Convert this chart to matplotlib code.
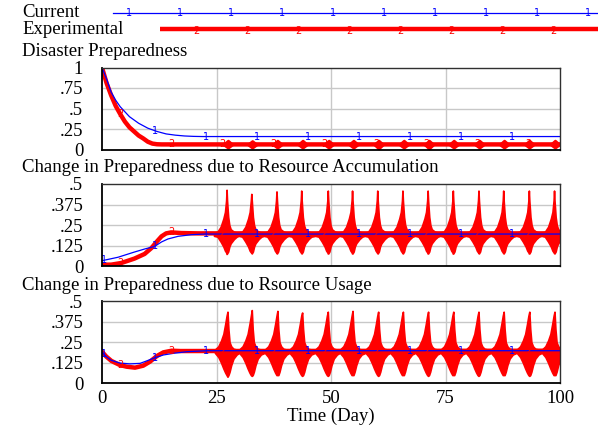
import numpy as np
import matplotlib
matplotlib.use('Agg')
import matplotlib.pyplot as plt

# ── values ───────────────────────────────────────────────────────────────────

MARK_1_T = [0.4, 11.55, 22.7, 33.85, 45.0, 56.15, 67.3, 78.45, 89.6]
MARK_2_T = [4.0, 15.2, 26.3, 37.5, 48.6, 59.8, 70.9, 82.0, 93.2]

# Disaster Preparedness
DP_CUR_T = [0, 1, 2, 3, 4, 5, 6, 7, 8, 9, 10, 12, 14, 16, 18, 20, 22, 100]
DP_CUR_V = [1.0, 0.86, 0.70, 0.60, 0.52, 0.46, 0.40, 0.36, 0.32, 0.29, 0.26,
            0.22, 0.19, 0.175, 0.165, 0.16, 0.158, 0.158]
DP_EXP_T = [0, 1, 2, 3, 4, 5, 6, 7, 8, 9, 10, 11, 12, 13, 100]
DP_EXP_V = [1.0, 0.81, 0.66, 0.53, 0.43, 0.34, 0.27, 0.22, 0.17, 0.135, 0.095,
            0.072, 0.064, 0.062, 0.062]
DP_BLOB_T = [27.5, 32.8, 38.3, 43.8, 49.5, 54.9, 60.4, 65.9, 71.4, 76.8,
             82.4, 87.8, 93.3, 98.9]
DP_BLOB_HI = [0.11, 0.105, 0.11, 0.11, 0.11, 0.11, 0.11, 0.11, 0.11, 0.11,
              0.11, 0.11, 0.11, 0.11]
DP_BLOB_LO = [0.02, 0.02, 0.02, 0.02, 0.02, 0.02, 0.01, 0.02, 0.01, 0.02,
              0.02, 0.02, 0.02, 0.02]

# Change in Preparedness due to Resource Accumulation
ACC_CUR_T = [0, 3.5, 7, 9.3, 11.5, 13, 14.4, 16.6, 19.5, 22.4, 100]
ACC_CUR_V = [0.034, 0.055, 0.086, 0.105, 0.121, 0.148, 0.166, 0.182, 0.192,
             0.196, 0.196]
ACC_EXP_T = [0, 2, 4.2, 7.1, 9.3, 10.8, 11.9, 13, 14, 15.1, 17.3, 21, 100]
ACC_EXP_V = [0.01, 0.01, 0.02, 0.047, 0.075, 0.111, 0.148, 0.182, 0.2, 0.206,
             0.202, 0.2, 0.2]
ACC_PEAK_T = [27.2, 32.6, 38.1, 43.5, 49.3, 54.6, 60.1, 65.6, 71.1, 76.6,
              82.2, 87.6, 93.2, 98.7]
ACC_PEAK_HI = [0.465, 0.44, 0.455, 0.46, 0.46, 0.46, 0.46, 0.46, 0.46, 0.46,
               0.46, 0.46, 0.46, 0.46]
ACC_PEAK_LO = [0.075, 0.085, 0.08, 0.08, 0.078, 0.078, 0.08, 0.08, 0.078,
               0.077, 0.08, 0.08, 0.078, 0.08]
# one burst, measured around its spike (days from spike, envelope values)
ACC_SHAPE_DT = [-2.75, -2.0, -1.3, -0.7, -0.35, -0.1,
                0.1, 0.35, 0.6, 0.9, 1.6, 2.2]
ACC_SHAPE_HI = [0.205, 0.21, 0.24, 0.29, 0.33, 0.40,
                0.40, 0.30, 0.25, 0.225, 0.21, 0.205]
ACC_SHAPE_LO = [0.185, 0.18, 0.15, 0.12, 0.095, 0.085,
                0.078, 0.09, 0.12, 0.14, 0.165, 0.18]

# Change in Preparedness due to Rsource Usage
USE_CUR_T = [0, 1, 2, 3.9, 6.1, 8.3, 9.75, 11.6, 13.4, 15.6, 18.5, 22.9, 100]
USE_CUR_V = [0.19, 0.16, 0.14, 0.123, 0.118, 0.121, 0.136, 0.156, 0.172,
             0.182, 0.192, 0.198, 0.198]
USE_EXP_T = [0, 0.95, 2.05, 3.9, 5.35, 7.2, 9, 10.5, 12, 13.4, 15.2, 17.1, 100]
USE_EXP_V = [0.192, 0.162, 0.136, 0.111, 0.101, 0.095, 0.107, 0.132, 0.166,
             0.188, 0.198, 0.196, 0.198]
USE_PEAK_T = [27.4, 32.7, 38.3, 43.7, 49.3, 54.7, 60.3, 65.7, 71.2, 76.7,
              82.2, 87.7, 93.3, 98.8]
USE_PEAK_HI = [0.435, 0.445, 0.44, 0.43, 0.435, 0.44, 0.435, 0.435, 0.435,
               0.435, 0.435, 0.435, 0.435, 0.435]
USE_PEAK_LO = [0.04, 0.045, 0.05, 0.045, 0.045, 0.05, 0.045, 0.05, 0.045,
               0.05, 0.045, 0.05, 0.045, 0.05]
USE_SHAPE_DT = [-2.75, -2.0, -1.4, -0.9, -0.5, -0.2,
                0.2, 0.45, 0.8, 1.3, 2.0]
USE_SHAPE_HI = [0.205, 0.225, 0.26, 0.30, 0.36, 0.41,
                0.33, 0.25, 0.225, 0.21, 0.205]
USE_SHAPE_LO = [0.185, 0.16, 0.125, 0.09, 0.065, 0.05,
                0.05, 0.07, 0.11, 0.15, 0.175]

BLUE = '#0000ff'
RED = '#ff0000'
GRID = '#c8c8c8'
W, H = 598, 426
FONT = ['Liberation Serif', 'DejaVu Serif']
FS = 13.5

plt.rcParams['font.family'] = FONT


def frac(x0, y0, x1, y1):
    """pixel box (top-left origin) -> figure fraction rect"""
    return [x0 / W, 1 - y1 / H, (x1 - x0) / W, (y1 - y0) / H]


def burst_band(peak_t, peak_hi, peak_lo, dt, hi, lo):
    """stitch the measured burst outline at every spike."""
    ts, his, los = [], [], []
    k = sum(d < 0 for d in dt)
    for tp, ph, pl in zip(peak_t, peak_hi, peak_lo):
        for d, h, l in zip(dt[:k], hi[:k], lo[:k]):
            ts.append(tp + d); his.append(h); los.append(l)
        ts.append(tp); his.append(ph); los.append(pl)
        for d, h, l in zip(dt[k:], hi[k:], lo[k:]):
            ts.append(tp + d); his.append(h); los.append(l)
    return np.array(ts), np.array(his), np.array(los)


def markers(ax, t, v, times, char, color):
    ys = np.interp(times, t, v)
    for x, y in zip(times, ys):
        ax.text(x, y, char, color=color, fontsize=7, family='DejaVu Sans',
                ha='center', va='center', zorder=6)


def style(ax, yticks, ylabels, xlabels):
    ax.set_xlim(0, 100)
    ax.set_ylim(yticks[0], yticks[-1])
    ax.set_xticks([0, 25, 50, 75, 100])
    ax.set_yticks(yticks)
    ax.set_yticklabels(ylabels)
    ax.tick_params(length=0, labelsize=FS, pad=13.5)
    ax.tick_params(axis='x', pad=5)
    if not xlabels:
        ax.set_xticklabels([])
    for v in [25, 50, 75]:
        ax.axvline(v, color=GRID, lw=1.0, zorder=0)
    for v in yticks[1:-1]:
        ax.axhline(v, color=GRID, lw=1.0, zorder=0)
    for s in ['left', 'bottom']:
        ax.spines[s].set_color('black')
        ax.spines[s].set_linewidth(1.3)
    for s in ['top', 'right']:
        ax.spines[s].set_color('#303030')
        ax.spines[s].set_linewidth(1.0)
    for s in ax.spines.values():
        s.set_zorder(7)


fig = plt.figure(figsize=(W / 100, H / 100), dpi=100)

# ── legend strip ─────────────────────────────────────────────────────────────
leg = fig.add_axes([0, 0, 1, 1])
leg.set_xlim(0, W)
leg.set_ylim(H, 0)
leg.axis('off')
leg.text(22, 12.5, 'Current', fontsize=FS, va='center', ha='left')
leg.text(22, 30, 'Experimental', fontsize=FS, va='center', ha='left')
leg.plot([113, W], [12.5, 12.5], color=BLUE, lw=0.9)
leg.plot([160, W], [28.5, 28.5], color=RED, lw=3.2, solid_capstyle='butt')
for x in np.arange(129, W, 51):
    leg.text(x, 12.5, '1', color=BLUE, fontsize=7, family='DejaVu Sans',
             ha='center', va='center')
for x in np.arange(196, W, 51):
    leg.text(x, 31, '2', color=RED, fontsize=7, family='DejaVu Sans',
             ha='center', va='center')

# ── panel titles ─────────────────────────────────────────────────────────────
leg.text(22, 52, 'Disaster Preparedness', fontsize=FS, va='center')
leg.text(22, 168, 'Change in Preparedness due to Resource Accumulation',
         fontsize=FS, va='center')
leg.text(22, 286, 'Change in Preparedness due to Rsource Usage',
         fontsize=FS, va='center')

# ── Disaster Preparedness ────────────────────────────────────────────────────
ax1 = fig.add_axes(frac(102, 67.5, 560, 149.5))
ax1.plot(DP_EXP_T, DP_EXP_V, color=RED, lw=3.2, zorder=3)
base = DP_EXP_V[-1]
for tb, hi, lo in zip(DP_BLOB_T, DP_BLOB_HI, DP_BLOB_LO):
    ax1.fill_between([tb - 1.0, tb, tb + 1.0], [base, lo, base],
                     [base, hi, base], color=RED, lw=1.8, zorder=3)
ax1.plot(DP_CUR_T, DP_CUR_V, color=BLUE, lw=0.9, zorder=4)
markers(ax1, DP_CUR_T, DP_CUR_V, MARK_1_T[1:], '1', BLUE)
markers(ax1, DP_EXP_T, DP_EXP_V, MARK_2_T, '2', RED)
style(ax1, [0, 0.25, 0.5, 0.75, 1.0], ['0', '.25', '.5', '.75', '1'], False)

# ── Resource Accumulation ────────────────────────────────────────────────────
ax2 = fig.add_axes(frac(102, 184, 560, 266.3))
ax2.plot(ACC_EXP_T, ACC_EXP_V, color=RED, lw=3.2, zorder=3)
bt, bh, bl = burst_band(ACC_PEAK_T, ACC_PEAK_HI, ACC_PEAK_LO,
                        ACC_SHAPE_DT, ACC_SHAPE_HI, ACC_SHAPE_LO)
ax2.fill_between(bt, bl, bh, color=RED, lw=1.2, zorder=3)
ax2.plot(ACC_CUR_T, ACC_CUR_V, color=BLUE, lw=0.9, zorder=4)
markers(ax2, ACC_CUR_T, ACC_CUR_V, MARK_1_T, '1', BLUE)
markers(ax2, ACC_EXP_T, ACC_EXP_V, MARK_2_T, '2', RED)
style(ax2, [0, 0.125, 0.25, 0.375, 0.5], ['0', '.125', '.25', '.375', '.5'],
      False)

# ── Resource Usage ───────────────────────────────────────────────────────────
ax3 = fig.add_axes(frac(102, 301, 560, 383.3))
ax3.plot(USE_EXP_T, USE_EXP_V, color=RED, lw=3.2, zorder=3)
bt, bh, bl = burst_band(USE_PEAK_T, USE_PEAK_HI, USE_PEAK_LO,
                        USE_SHAPE_DT, USE_SHAPE_HI, USE_SHAPE_LO)
ax3.fill_between(bt, bl, bh, color=RED, lw=1.2, zorder=3)
ax3.plot(USE_CUR_T, USE_CUR_V, color=BLUE, lw=0.9, zorder=4)
markers(ax3, USE_CUR_T, USE_CUR_V, MARK_1_T, '1', BLUE)
markers(ax3, USE_EXP_T, USE_EXP_V, MARK_2_T, '2', RED)
style(ax3, [0, 0.125, 0.25, 0.375, 0.5], ['0', '.125', '.25', '.375', '.5'],
      True)
ax3.set_xlabel('Time (Day)', fontsize=FS, labelpad=0)

fig.savefig('out.png', dpi=100)
